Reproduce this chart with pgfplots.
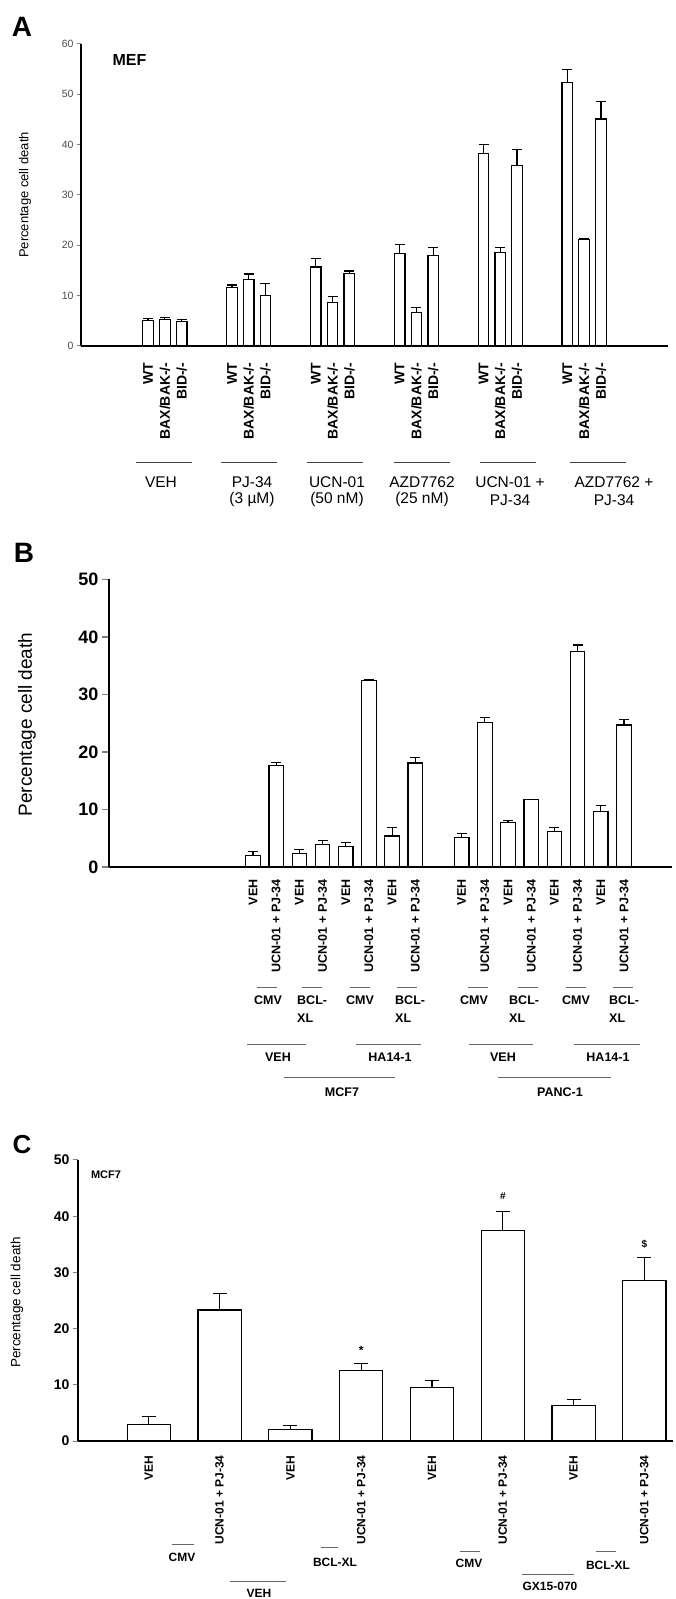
\documentclass[border=0pt]{standalone}
\usepackage{fontspec}
\setmainfont{Liberation Sans}
\usepackage{pgfplots}
\pgfplotsset{compat=1.18}
\newcommand\fs[1]{\fontsize{#1}{#1}\selectfont}
\begin{document}
\begin{tikzpicture}
\pgfplotsset{
 panel/.style={
  scale only axis, clip=false,
  axis lines=left, axis line style={-, line width=1.2pt},
  ymin=0,
  xtick style={draw=none},
  ytick style={line width=1pt},
  tick align=outside,
  /pgf/number format/assume math mode=true,
  xticklabel style={rotate=90, anchor=east},
 },
 bars/.style={ybar, bar shift=0pt, fill=white, draw=black, line width=1.2pt,
   error bars/y dir=plus, error bars/y explicit,
   error bars/error bar style={line width=1.2pt},
 }
}
% ---------------- Panel A ----------------
\begin{axis}[panel, at={(81pt,1253pt)}, anchor=south west,
  width=587pt, height=302pt, xmin=0, xmax=35, ymax=60, ytick={0,10,...,60},
  xtick={4,5,6,9,10,11,14,15,16,19,20,21,24,25,26,29,30,31},
  xticklabels={WT,BAX/BAK-/-,BID-/-,WT,BAX/BAK-/-,BID-/-,WT,BAX/BAK-/-,BID-/-,WT,BAX/BAK-/-,BID-/-,WT,BAX/BAK-/-,BID-/-,WT,BAX/BAK-/-,BID-/-},
  xticklabel style={font=\bfseries\fs{14}}, xticklabel shift=9pt,
  yticklabel style={font=\fs{10.5}, text=black!70},
  major tick length=4pt]
\addplot[bar width=0.63, bars, error bars/error mark options={rotate=90, mark size=5pt, line width=1.2pt}] coordinates {
 (4,5.0) +- (0,0.4) (5,5.2) +- (0,0.4) (6,4.8) +- (0,0.4)
 (9,11.6) +- (0,0.5) (10,13.2) +- (0,1.1) (11,10.1) +- (0,2.3)
 (14,15.7) +- (0,1.7) (15,8.6) +- (0,1.2) (16,14.4) +- (0,0.5)
 (19,18.3) +- (0,1.9) (20,6.6) +- (0,1.0) (21,17.9) +- (0,1.6)
 (24,38.3) +- (0,1.7) (25,18.6) +- (0,1.0) (26,35.9) +- (0,3.1)
 (29,52.3) +- (0,2.6) (30,21.2) +- (0,0.2) (31,45.1) +- (0,3.5)
};
\end{axis}
% ---------------- Panel B ----------------
\begin{axis}[panel, at={(109pt,732pt)}, anchor=south west,
  width=563pt, height=287.5pt, xmin=-5.21, xmax=19.07, ymax=50, ytick={0,10,...,50},
  xtick={1,2,3,4,5,6,7,8,10,11,12,13,14,15,16,17},
  xticklabels={VEH,UCN-01 + PJ-34,VEH,UCN-01 + PJ-34,VEH,UCN-01 + PJ-34,VEH,UCN-01 + PJ-34,VEH,UCN-01 + PJ-34,VEH,UCN-01 + PJ-34,VEH,UCN-01 + PJ-34,VEH,UCN-01 + PJ-34},
  xticklabel style={font=\bfseries\fs{12.5}}, xticklabel shift=2pt,
  yticklabel style={font=\bfseries\fs{18}},
  ytick style={line width=1.3pt},
  major tick length=7pt]
\addplot[bar width=0.625, bars, error bars/error mark options={rotate=90, mark size=5pt, line width=1.2pt}] coordinates {
 (1,2.0) +- (0,0.7) (2,17.6) +- (0,0.6) (3,2.4) +- (0,0.6) (4,3.9) +- (0,0.7)
 (5,3.5) +- (0,0.7) (6,32.5) +- (0,0.1) (7,5.4) +- (0,1.4) (8,18.1) +- (0,1.0)
 (10,5.1) +- (0,0.7) (11,25.1) +- (0,0.9) (12,7.8) +- (0,0.3) (13,11.7) +- (0,0.05)
 (14,6.2) +- (0,0.6) (15,37.5) +- (0,1.1) (16,9.7) +- (0,1.0) (17,24.7) +- (0,1.0)
};
\end{axis}
% ---------------- Panel C ----------------
\begin{axis}[panel, at={(78pt,158pt)}, anchor=south west,
  width=594.7pt, height=281pt, xmin=0, xmax=8.4, ymax=50, ytick={0,10,...,50},
  xtick={1,...,8},
  xticklabels={VEH,UCN-01 + PJ-34,VEH,UCN-01 + PJ-34,VEH,UCN-01 + PJ-34,VEH,UCN-01 + PJ-34},
  xticklabel style={font=\bfseries\fs{12}}, xticklabel shift=6pt,
  yticklabel style={font=\bfseries\fs{14}},
  major tick length=5pt]
\addplot[bar width=0.61, bars, error bars/error mark options={rotate=90, mark size=7pt, line width=1.2pt}] coordinates {
 (1,3.0) +- (0,1.3) (2,23.3) +- (0,2.9) (3,2.0) +- (0,0.7) (4,12.5) +- (0,1.3)
 (5,9.5) +- (0,1.2) (6,37.4) +- (0,3.4) (7,6.35) +- (0,1.05) (8,28.6) +- (0,4.1)
};
\node[font=\bfseries\fs{12}] at (axis cs:4,16.2) {*};
\node[font=\bfseries\fs{10}] at (axis cs:6,43.5) {\#};
\node[font=\bfseries\fs{10}] at (axis cs:8,35.1) {\$};
\end{axis}
% ---------------- annotations ----------------
\begin{scope}[x=1pt,y=1pt]
\node[font=\bfseries\fs{28}] at (22,1572) {A};
\node[rotate=90, font=\fs{13}] at (25,1404) {Percentage cell death};
\node[font=\bfseries\fs{16}] at (129.5,1538.5) {MEF};
\foreach \c in {164,249,335,422,508,598} {\draw[line width=1pt, black!75] (\c-28,1136) -- (\c+28,1136);}
\begin{scope}[every node/.style={font=\fs{15.5}}]
\node at (161,1117) {VEH};
\node at (252,1117) {PJ-34}; \node at (252,1099) {(3 µM)};
\node at (337,1117) {UCN-01}; \node at (337,1099) {(50 nM)};
\node at (422,1117) {AZD7762}; \node at (422,1099) {(25 nM)};
\node at (510,1117) {UCN-01 +}; \node at (510,1099) {PJ-34};
\node at (614,1117) {AZD7762 +}; \node at (614,1099) {PJ-34};
\end{scope}
\node[font=\bfseries\fs{28}] at (24,1046) {B};
\node[rotate=90, font=\fs{19}] at (27,874.5) {Percentage cell death};
\begin{scope}[every node/.style={font=\bfseries\fs{12.5}}]
\foreach \c in {267,312,360,407,478,528,576,623} {\draw[line width=0.8pt, black!60] (\c-10,612) -- (\c+10,612);}
\node at (268,599) {CMV}; \node at (360,599) {CMV}; \node at (474,599) {CMV}; \node at (576,599) {CMV};
\foreach \c in {297,395,509,609} {\node[anchor=west, inner sep=0pt] at (\c,599) {BCL-}; \node[anchor=west, inner sep=0pt] at (\c,581) {XL};}
\draw[line width=0.8pt, black!60] (247,555) -- (306,555);
\draw[line width=0.8pt, black!60] (356,555) -- (421,555);
\draw[line width=0.8pt, black!60] (469,555) -- (533,555);
\draw[line width=0.8pt, black!60] (574,555) -- (640,555);
\node at (278,542) {VEH}; \node at (390,542) {HA14-1}; \node at (503,542) {VEH}; \node at (608,542) {HA14-1};
\draw[line width=0.8pt, black!60] (284,522) -- (395,522);
\draw[line width=0.8pt, black!60] (498,522) -- (611,522);
\node at (342,507) {MCF7}; \node at (560,507) {PANC-1};
\end{scope}
\node[font=\bfseries\fs{26}] at (22,454) {C};
\node[font=\bfseries\fs{11}] at (106,424) {MCF7};
\node[rotate=90, font=\fs{13.5}] at (17,296.5) {Percentage cell death};
\begin{scope}[every node/.style={font=\bfseries\fs{12}}]
\draw[line width=0.8pt, black!60] (172,55) -- (194,55); \node at (182,42) {CMV};
\draw[line width=0.8pt, black!60] (321,52) -- (338,52); \node at (335,37) {BCL-XL};
\draw[line width=0.8pt, black!60] (460,48) -- (480,48); \node at (469,36) {CMV};
\draw[line width=0.8pt, black!60] (596,48) -- (616,48); \node at (608,34) {BCL-XL};
\draw[line width=0.8pt, black!60] (230,18) -- (286,18); \node at (259,6) {VEH};
\draw[line width=0.8pt, black!60] (522,25) -- (574,25); \node at (550,13) {GX15-070};
\end{scope}
\end{scope}
\pgfresetboundingbox
\useasboundingbox (0pt,0pt) rectangle (675pt,1599pt);
\end{tikzpicture}
\end{document}
